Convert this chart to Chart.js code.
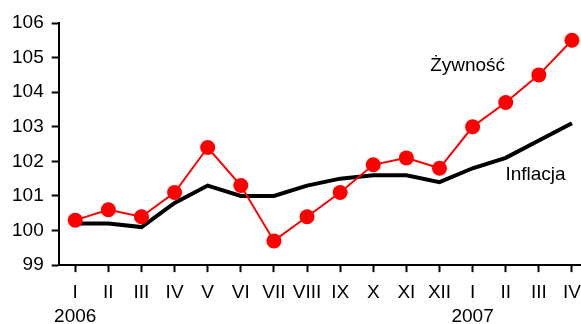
<!DOCTYPE html>
<html>
<head>
<meta charset="utf-8">
<script src="https://cdn.jsdelivr.net/npm/chart.js@4.4.1/dist/chart.umd.min.js"></script>
<style>
  html, body { margin: 0; padding: 0; background: #fff; overflow: hidden; }
  #wrap { width: 581px; height: 324px; overflow: hidden; }
</style>
</head>
<body>
<div id="wrap"><canvas id="priceChart" width="596" height="338"></canvas></div>
<script>
// month labels (second line = year)
const months = [['I', '2006'], 'II', 'III', 'IV', 'V', 'VI', 'VII', 'VIII', 'IX', 'X', 'XI', 'XII',
                ['I', '2007'], 'II', 'III', 'IV'];

// food prices and CPI, previous year = 100
const zywnosc = [100.3, 100.6, 100.4, 101.1, 102.4, 101.3, 99.7, 100.4, 101.1, 101.9, 102.1, 101.8,
                 103.0, 103.7, 104.5, 105.5];
const inflacja = [100.2, 100.2, 100.1, 100.8, 101.3, 101.0, 101.0, 101.3, 101.5, 101.6, 101.6, 101.4,
                  101.8, 102.1, 102.6, 103.1];

const yMin = 99;
const yMax = 106;

// series names drawn next to the lines: [name, category index, value]
const seriesLabels = [
    ['Żywność', 11.85, 104.75],
    ['Inflacja', 13.9, 101.62]
];

const fontFamily = '"Liberation Sans", Arial, sans-serif';

// draw series names inside the plot
const seriesLabelPlugin = {
    id: 'seriesLabels',
    afterDatasetsDraw(chart) {
        const ctx = chart.ctx;
        const xs = chart.scales.x;
        const ys = chart.scales.y;
        ctx.save();
        ctx.font = '19px ' + fontFamily;
        ctx.fillStyle = '#000';
        ctx.textAlign = 'center';
        ctx.textBaseline = 'middle';
        seriesLabels.forEach(item => {
            ctx.fillText(item[0], xs.getPixelForValue(item[1]), ys.getPixelForValue(item[2]));
        });
        ctx.restore();
    }
};

const ctx = document.getElementById('priceChart').getContext('2d');
new Chart(ctx, {
    type: 'line',
    data: {
        labels: months,
        datasets: [{
            label: 'Żywność',
            data: zywnosc,
            borderColor: '#ff0000',
            backgroundColor: '#ff0000',
            borderWidth: 2,
            pointRadius: 7.5,
            pointBorderWidth: 0,
            pointBackgroundColor: '#ff0000',
            tension: 0
        }, {
            label: 'Inflacja',
            data: inflacja,
            borderColor: '#000000',
            borderWidth: 4,
            pointRadius: 0,
            tension: 0
        }]
    },
    options: {
        responsive: false,
        animation: false,
        layout: {
            padding: { left: 4, right: 0, top: 23, bottom: 0 }
        },
        plugins: {
            legend: { display: false },
            tooltip: { enabled: false }
        },
        scales: {
            x: {
                offset: true,
                grid: {
                    drawOnChartArea: false,
                    tickLength: 7,
                    tickWidth: 2,
                    tickColor: '#000'
                },
                border: { color: '#000', width: 2 },
                ticks: {
                    color: '#000',
                    padding: 9,
                    maxRotation: 0,
                    autoSkip: false,
                    font: { family: fontFamily, size: 19, lineHeight: 1.26 }
                }
            },
            y: {
                min: yMin,
                max: yMax,
                grid: {
                    drawOnChartArea: false,
                    tickLength: 7,
                    tickWidth: 2,
                    tickColor: '#000'
                },
                border: { color: '#000', width: 2 },
                ticks: {
                    stepSize: 1,
                    color: '#000',
                    padding: 8,
                    font: { family: fontFamily, size: 19 }
                }
            }
        }
    },
    plugins: [seriesLabelPlugin]
});
</script>
</body>
</html>
